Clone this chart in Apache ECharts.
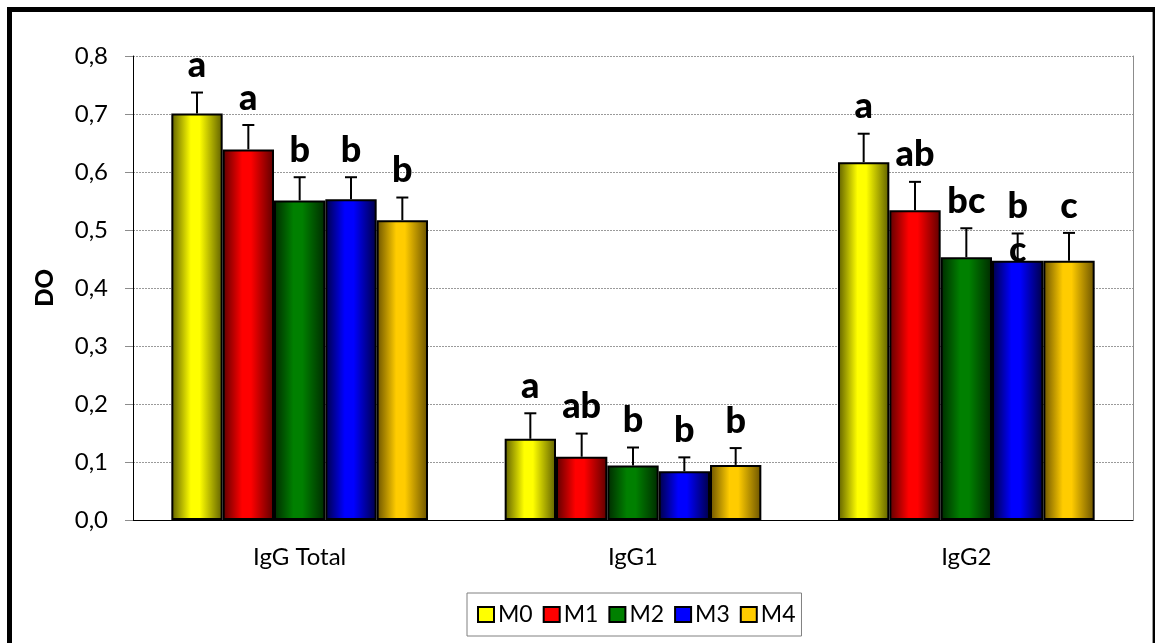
<!DOCTYPE html>
<html>
<head>
<meta charset="utf-8">
<script src="https://cdn.jsdelivr.net/npm/echarts@6/dist/echarts.min.js"></script>
<style>
  html, body { margin: 0; padding: 0; background: #fff; overflow: hidden; }
  #chart { position: absolute; left: 0; top: 0; width: 1155px; height: 643px; }
  #frame {
    position: absolute; left: 7px; top: 7px; width: 1151px; height: 700px;
    box-sizing: border-box; border: 5px solid #000; pointer-events: none;
    box-shadow: inset -1px 0 0 #9a9a9a;
  }
</style>
</head>
<body>
<div id="chart"></div>
<div id="frame"></div>
<script>
// Antibody classes on the x axis
const categories = ['IgG Total', 'IgG1', 'IgG2'];
const groupNames = ['M0', 'M1', 'M2', 'M3', 'M4'];

// Mean optical density (DO) per group
const meanM0 = [0.701, 0.140, 0.617];
const meanM1 = [0.639, 0.109, 0.534];
const meanM2 = [0.551, 0.094, 0.453];
const meanM3 = [0.553, 0.084, 0.447];
const meanM4 = [0.517, 0.095, 0.447];

// Standard deviation (upper error bar) per group
const sdM0 = [0.036, 0.044, 0.049];
const sdM1 = [0.042, 0.040, 0.049];
const sdM2 = [0.040, 0.031, 0.050];
const sdM3 = [0.038, 0.024, 0.047];
const sdM4 = [0.039, 0.029, 0.048];

// Significance letters per group
const letM0 = ['a', 'a', 'a'];
const letM1 = ['a', 'ab', 'ab'];
const letM2 = ['b', 'b', 'bc'];
const letM3 = ['b', 'b', 'b\nc'];
const letM4 = ['b', 'b', 'c'];

// Y axis ticks
const yTicks = [0, 0.1, 0.2, 0.3, 0.4, 0.5, 0.6, 0.7, 0.8];

const means = [meanM0, meanM1, meanM2, meanM3, meanM4];
const sds = [sdM0, sdM1, sdM2, sdM3, sdM4];
const letters = [letM0, letM1, letM2, letM3, letM4];

// [edge, centre] shades for the cylinder-like horizontal gradient
const shades = [
  ['#5e5e00', '#ffff00'],
  ['#5c0000', '#ff0000'],
  ['#002a00', '#008000'],
  ['#000044', '#0000ff'],
  ['#6a5200', '#ffcc00']
];
const solid = ['#ffff00', '#ff0000', '#008000', '#0000ff', '#ffcc00'];

const CAT_GAP = 0.23;
const FONT = 'Lato';

function gradient(k) {
  const [edge, mid] = shades[k];
  return new echarts.graphic.LinearGradient(0, 0, 1, 0, [
    { offset: 0, color: edge },
    { offset: 0.38, color: mid },
    { offset: 0.55, color: mid },
    { offset: 1, color: edge }
  ]);
}

const barSeries = groupNames.map((name, k) => ({
  name: name,
  type: 'bar',
  data: means[k],
  barGap: '0%',
  barCategoryGap: (CAT_GAP * 100) + '%',
  itemStyle: { color: gradient(k), borderColor: '#000', borderWidth: 2 },
  z: 2
}));

// One record per bar: category, mean, sd, group index
const errItems = [];
const errLetters = [];
for (let k = 0; k < groupNames.length; k++) {
  for (let c = 0; c < categories.length; c++) {
    errItems.push([c, means[k][c], sds[k][c], k]);
    errLetters.push(letters[k][c]);
  }
}

const errorSeries = {
  type: 'custom',
  data: errItems,
  encode: { x: 0, y: 1 },
  z: 5,
  renderItem: function (params, api) {
    const c = api.value(0), m = api.value(1), sd = api.value(2), k = api.value(3);
    const band = api.size([1, 0])[0];
    const barW = band * (1 - CAT_GAP) / groupNames.length;
    const cx = api.coord([c, 0])[0] - barW * groupNames.length / 2 + (k + 0.5) * barW;
    const yTop = api.coord([c, m])[1];
    const yErr = api.coord([c, m + sd])[1];
    const cap = 6;
    const lh = 44;
    return {
      type: 'group',
      children: [
        { type: 'line', shape: { x1: cx, y1: yTop, x2: cx, y2: yErr },
          style: { stroke: '#000', lineWidth: 2 } },
        { type: 'line', shape: { x1: cx - cap, y1: yErr, x2: cx + cap, y2: yErr },
          style: { stroke: '#000', lineWidth: 2 } },
        { type: 'text',
          style: { text: errLetters[params.dataIndex], x: cx, y: yErr - 27 - lh / 2,
                   align: 'center', verticalAlign: 'top', lineHeight: lh,
                   font: '900 36px ' + FONT, fill: '#000' } }
      ]
    };
  }
};

const chart = echarts.init(document.getElementById('chart'), null, { renderer: 'canvas' });
chart.setOption({
  animation: false,
  backgroundColor: '#fff',
  textStyle: { fontFamily: FONT, color: '#000' },
  grid: { left: 133, right: 22, top: 56, bottom: 123 },
  legend: {
    data: groupNames.map((n, k) => ({ name: n, itemStyle: { color: solid[k] } })),
    left: 467, top: 593,
    orient: 'horizontal',
    icon: 'rect',
    itemWidth: 16, itemHeight: 15, itemGap: 10,
    padding: [10, 6, 10, 10],
    borderColor: '#808080', borderWidth: 1,
    selectedMode: false,
    itemStyle: { borderColor: '#000', borderWidth: 2 },
    textStyle: { fontSize: 23, fontFamily: FONT, color: '#000', padding: [0, 0, 0, -1] }
  },
  xAxis: {
    type: 'category',
    data: categories,
    axisLine: { lineStyle: { color: '#000', width: 1 } },
    axisTick: { show: false },
    axisLabel: { fontSize: 24, fontFamily: FONT, color: '#000', margin: 25 }
  },
  yAxis: [{
    type: 'value',
    min: yTicks[0], max: yTicks[yTicks.length - 1], interval: yTicks[1] - yTicks[0],
    name: 'DO', nameLocation: 'middle', nameGap: 76, nameRotate: 90,
    nameTextStyle: { fontSize: 24, fontWeight: 900, fontFamily: FONT, color: '#000' },
    axisLine: { show: true, lineStyle: { color: '#000', width: 1 } },
    axisTick: { show: true, length: 8, lineStyle: { color: '#8c8c8c' } },
    axisLabel: { fontSize: 24, fontFamily: FONT, color: '#000', margin: 25,
                 formatter: v => v.toFixed(1).replace('.', ',') },
    splitLine: { show: true, lineStyle: { color: '#9a9a9a', type: [2, 1], width: 1 } }
  }, {
    type: 'value', position: 'right',
    min: yTicks[0], max: yTicks[yTicks.length - 1], interval: yTicks[1] - yTicks[0],
    axisLine: { show: true, lineStyle: { color: '#8c8c8c', width: 1 } },
    axisTick: { show: false }, axisLabel: { show: false }, splitLine: { show: false }
  }],
  series: barSeries.concat([errorSeries])
});
</script>
</body>
</html>
